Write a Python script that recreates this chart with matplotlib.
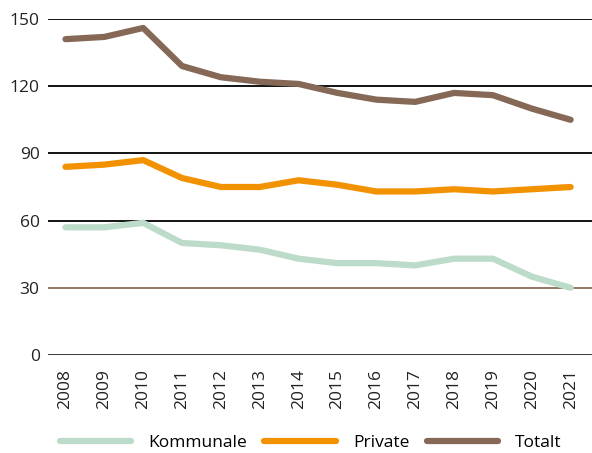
import matplotlib.pyplot as plt

plt.rcParams['font.family'] = ['Open Sans', 'DejaVu Sans']

years = list(range(2008, 2022))
kommunale = [57, 57, 59, 50, 49, 47, 43, 41, 41, 40, 43, 43, 35, 30]
private = [84, 85, 87, 79, 75, 75, 78, 76, 73, 73, 74, 73, 74, 75]
totalt = [141, 142, 146, 129, 124, 122, 121, 117, 114, 113, 117, 116, 110, 105]
yticks = [0, 30, 60, 90, 120, 150]

fig = plt.figure(figsize=(5.92, 4.53), dpi=100)
ax = fig.add_axes([48 / 592, 1 - 355 / 453, 1 - 48 / 592, 336 / 453])

# gridlines: black, except the 30 line which is brown
for v in yticks:
    color = '#8c6b5a' if v == 30 else 'black'
    lw = 1.8 if v == 0 else 1.3
    ax.axhline(v, color=color, lw=lw, zorder=1)

ax.plot(years, kommunale, color='#bcdbc9', lw=4.5, solid_capstyle='round', label='Kommunale', zorder=3)
ax.plot(years, private, color='#f39200', lw=4.5, solid_capstyle='round', label='Private', zorder=3)
ax.plot(years, totalt, color='#866857', lw=4.5, solid_capstyle='round', label='Totalt', zorder=3)

ax.set_xlim(2007.55, 2021.55)
ax.set_ylim(0, 150)
ax.set_yticks(yticks)
ax.set_xticks(years)
ax.set_xticklabels([str(y) for y in years], rotation=90)
ax.tick_params(axis='both', length=0, labelsize=12.5, colors='#222222')
ax.tick_params(axis='x', pad=10)
ax.tick_params(axis='y', pad=6)
for s in ax.spines.values():
    s.set_visible(False)

fig.legend(loc='lower center', bbox_to_anchor=(0.525, -0.03), ncol=3, frameon=False,
           fontsize=12.5, handlelength=4.1, columnspacing=1.0, handletextpad=1.0)

fig.savefig('out.png', dpi=100)
